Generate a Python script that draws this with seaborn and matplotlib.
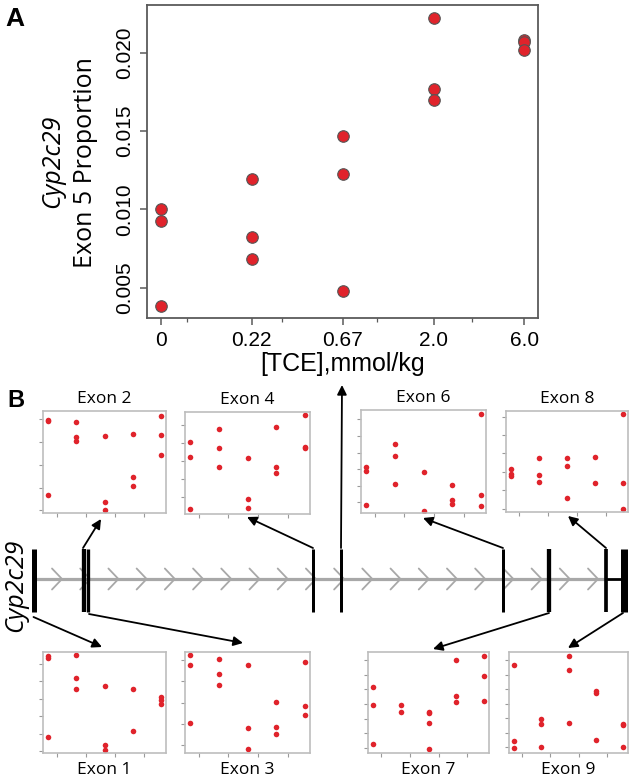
import numpy as np
import pandas as pd
import seaborn as sns
import matplotlib.pyplot as plt
from matplotlib.ticker import MultipleLocator, FixedLocator

sns.set_style("white")
plt.rcParams['font.family'] = ['Liberation Sans', 'DejaVu Sans']
plt.rcParams['text.color'] = 'black'
plt.rcParams['axes.labelcolor'] = 'black'
plt.rcParams['xtick.labelcolor'] = 'black'
plt.rcParams['ytick.labelcolor'] = 'black'

# ---- data -------------------------------------------------------------
doses = ["0", "0.22", "0.67", "2.0", "6.0"]

# panel A: Cyp2c29 exon 5 proportion per mouse, grouped by dose
exon5_prop = [[0.01006, 0.00927, 0.00383],
              [0.01192, 0.00825, 0.00681],
              [0.01470, 0.01224, 0.00479],
              [0.02226, 0.01773, 0.01700],
              [0.02080, 0.02070, 0.02020]]

# panel B: small unlabeled panels (values in tick units of each panel)
exon1 = [[5.43, 5.34, 0.81], [5.47, 4.19, 3.58], [3.72, 0.38, 0.09], [3.57, 1.17], [3.08, 2.92, 2.70]]
exon2 = [[3.99, 3.94, 0.69], [3.90, 3.21, 3.06], [3.28, 0.38, 0.01], [3.35, 1.47, 1.09], [4.16, 3.31, 2.43]]
exon3 = [[4.25, 3.80, 1.03], [4.08, 3.33, 2.81], [3.78, 0.80, -0.19], [2.05, 0.84, 0.52], [3.91, 1.83, 1.44]]
exon4 = [[3.06, 2.22, -0.65], [3.80, 2.74, 1.67], [2.19, -0.07, -0.59], [3.89, 1.67, 1.35], [4.56, 2.78, 2.72]]
exon6 = [[2.12, 1.90, -0.14], [3.50, 2.82, 1.10], [1.80, -0.50], [1.02, 0.12, -0.10], [5.32, 0.46, -0.20]]
exon7 = [[4.20, 2.93, 0.25], [2.91, 2.45], [2.45, 2.39, 1.70, -0.09], [6.05, 3.52, 3.11], [6.30, 4.89, 3.18]]
exon8 = [[2.16, 1.87, 1.76], [2.73, 1.85, 1.44], [2.73, 2.33, 0.56], [2.82, 1.40], [5.13, 1.38, 0.00]]
exon9 = [[5.68, 0.45, -0.05], [1.95, 1.61, 0.02], [6.27, 5.32, 1.64], [3.84, 3.70, 0.52], [1.59, 1.50, 0.05]]

# gene model (pixel positions along the drawing)
exon_pos = [33.5, 83.8, 88.3, 313.4, 341, 503, 549, 606, 623.5]
exon_w = [5.0, 4.3, 3.3, 3.0, 3.0, 3.0, 4.3, 3.7, 7.0]

RED = "#e0232b"


def long_df(vals):
    rows = [(doses[i], i, v) for i, grp in enumerate(vals) for v in grp]
    return pd.DataFrame(rows, columns=["dose", "idx", "value"])


W, H = 633, 783
fig = plt.figure(figsize=(W / 100, H / 100), dpi=100)


def px_axes(x0, y0, x1, y1):
    return fig.add_axes([x0 / W, 1 - y1 / H, (x1 - x0) / W, (y1 - y0) / H])


# ---- panel A ----------------------------------------------------------
axA = px_axes(146.5, 5.3, 538, 318)
sns.stripplot(data=long_df(exon5_prop), x="dose", y="value", order=doses,
              jitter=False, color=RED, size=8.3, linewidth=0.8,
              edgecolor="#555555", ax=axA)
axA.set_xlim(-0.16, 4.15)
axA.set_ylim(0.00306, 0.02305)
axA.yaxis.set_major_locator(FixedLocator([0.005, 0.010, 0.015, 0.020]))
axA.set_yticklabels(["0.005", "0.010", "0.015", "0.020"])
axA.xaxis.set_minor_locator(FixedLocator([0.29, 1.33, 2.38, 3.42]))
for s in axA.spines.values():
    s.set_color("#5a5a5a")
    s.set_linewidth(1.3)
axA.tick_params(axis="both", which="major", direction="out", length=5,
                width=1.1, color="#5a5a5a", labelsize=15, pad=4,
                labelcolor="black", left=True, bottom=True)
axA.tick_params(axis="x", which="minor", direction="out", length=3,
                width=0.9, color="#5a5a5a", bottom=True)
plt.setp(axA.get_yticklabels(), rotation=90, va="center")
axA.set_xlabel("[TCE],mmol/kg", fontsize=18, labelpad=2)
axA.set_ylabel("")
fig.text(52.5 / W, 1 - 161 / H, "Cyp2c29", rotation=90, style="italic",
         family="Open Sans", fontsize=18, ha="center", va="center")
fig.text(85 / W, 1 - 163 / H, "Exon 5 Proportion", rotation=90,
         family="Open Sans", fontsize=18, ha="center", va="center")
fig.text(15 / W, 1 - 19 / H, "A", fontsize=19, weight="bold",
         ha="center", va="center")

# ---- panel B small plots ------------------------------------------------
panels = [
    ("Exon 2", exon2, (43, 411, 166, 513), (-0.12, 4.37), "top"),
    ("Exon 4", exon4, (185, 412, 310, 514), (-0.93, 4.74), "top"),
    ("Exon 6", exon6, (361, 410, 486, 513), (-0.64, 5.56), "top"),
    ("Exon 8", exon8, (506, 411, 628, 512), (-0.18, 5.31), "top"),
    ("Exon 1", exon1, (43, 652, 166, 753), (-0.09, 5.66), "bottom"),
    ("Exon 3", exon3, (185, 652, 310, 753), (-0.375, 4.39), "bottom"),
    ("Exon 7", exon7, (368, 652, 489, 753), (-0.36, 6.57), "bottom"),
    ("Exon 9", exon9, (509, 652, 628, 753), (-0.39, 6.55), "bottom"),
]

for name, vals, box, ylim, where in panels:
    ax = px_axes(*box)
    sns.scatterplot(data=long_df(vals), x="idx", y="value", color=RED,
                    s=16, linewidth=0, legend=False, ax=ax)
    ax.set_xlim(-0.18, 4.18)
    ax.set_ylim(*ylim)
    ax.yaxis.set_major_locator(MultipleLocator(1))
    ax.xaxis.set_major_locator(FixedLocator([0.30, 1.33, 2.37, 3.40]))
    ax.set_xticklabels([])
    ax.set_yticklabels([])
    ax.set_xlabel("")
    ax.set_ylabel("")
    for s in ax.spines.values():
        s.set_color("#bdbdbd")
        s.set_linewidth(1.2)
    ax.tick_params(direction="out", length=3, width=0.8, color="#9a9a9a",
                   left=True, bottom=True)
    cx = (box[0] + box[2]) / 2
    ty = box[1] - 12 if where == "top" else box[3] + 17
    fig.text(cx / W, 1 - ty / H, name, family="Open Sans", fontsize=12.5,
             ha="center", va="center")

fig.text(16 / W, 1 - 401 / H, "B", fontsize=17, weight="bold",
         ha="center", va="center")

# ---- gene model overlay ---------------------------------------------------
axD = fig.add_axes([0, 0, 1, 1], zorder=5)
axD.set_xlim(0, W)
axD.set_ylim(H, 0)
axD.axis("off")
axD.patch.set_alpha(0)

line_y = 579
axD.plot([exon_pos[0], exon_pos[7]], [line_y, line_y], color="#a8a8a8",
         lw=2.3, solid_capstyle="butt", zorder=1)
for t in np.linspace(62, 598, 20):
    axD.plot([t - 10, t, t - 10], [line_y - 10.5, line_y, line_y + 10.5],
             color="#a8a8a8", lw=1.3, zorder=1)
axD.plot([exon_pos[7], exon_pos[8]], [line_y, line_y], color="k", lw=2.0,
         zorder=2)
axD.vlines(exon_pos, 549, 612, colors="k",
           linewidth=[w * 0.72 for w in exon_w], zorder=3)

arrows = [
    ((33.5, 617), (102, 647)),
    ((83, 548), (101, 519)),
    ((89, 614), (243, 643)),
    ((313, 548), (247, 517)),
    ((341, 548), (342, 385)),
    ((503, 548), (423, 518)),
    ((549, 613), (433, 649)),
    ((606, 548), (568, 516)),
    ((623, 613), (568, 648)),
]
for start, end in arrows:
    axD.annotate("", xy=end, xytext=start,
                 arrowprops=dict(arrowstyle="-|>", color="k", lw=1.3,
                                 mutation_scale=14, shrinkA=0, shrinkB=0))

axD.text(16, 585, "Cyp2c29", rotation=90, style="italic", family="Open Sans",
         fontsize=18, ha="center", va="center")

fig.savefig("out.png", dpi=100)
